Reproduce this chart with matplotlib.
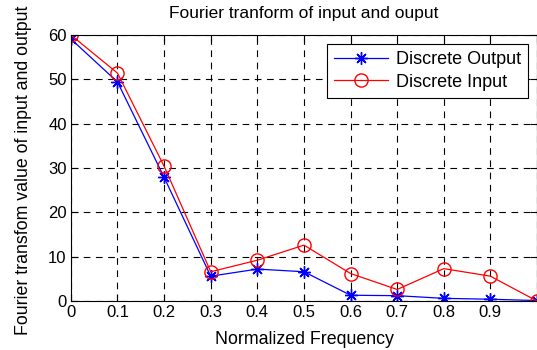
import numpy as np
import matplotlib
matplotlib.use("Agg")
import matplotlib.pyplot as plt

plt.rcParams['font.family'] = ['Liberation Sans', 'DejaVu Sans']

# normalized frequency and FFT magnitudes
freq = [0, 0.1, 0.2, 0.3, 0.4, 0.5, 0.6, 0.7, 0.8, 0.9, 1.0]
output_mag = [59.1, 49.4, 27.9, 5.6, 7.2, 6.6, 1.3, 1.2, 0.6, 0.4, 0.1]
input_mag = [60.0, 51.4, 30.4, 6.6, 9.2, 12.6, 6.2, 2.6, 7.3, 5.6, 0.0]

x_ticks = [0, 0.1, 0.2, 0.3, 0.4, 0.5, 0.6, 0.7, 0.8, 0.9, 1.0]
x_tick_labels = ['0', '0.1', '0.2', '0.3', '0.4', '0.5', '0.6', '0.7', '0.8', '0.9', '']
y_ticks = [0, 10, 20, 30, 40, 50, 60]

fig = plt.figure(figsize=(5.37, 3.5), dpi=100)
ax = fig.add_axes([0.132, 0.14, 0.868, 0.76])

# asterisk marker like matlab's '*'
ax.plot(freq, output_mag, color='blue', marker=(8, 2, 0), markersize=9,
        markeredgewidth=1.0, linewidth=0.9, label='Discrete Output')
ax.plot(freq, input_mag, color='red', marker='o', markersize=9.5,
        markerfacecolor='none', markeredgewidth=1.0, linewidth=0.9,
        label='Discrete Input')

ax.set_xlim(0, 1)
ax.set_ylim(0, 60)
ax.set_xticks(x_ticks)
ax.set_xticklabels(x_tick_labels)
ax.set_yticks(y_ticks)
ax.tick_params(direction='in', top=True, right=True, labelsize=12, length=5, pad=3)
ax.grid(True, color='black', linestyle=(0, (6, 5)), linewidth=0.8)

ax.set_title('Fourier tranform of input and ouput', fontsize=12.5, pad=12)
ax.set_xlabel('Normalized Frequency', fontsize=12.8)
ax.set_ylabel('Fourier transfom value of input and output', fontsize=12.8)
ax.xaxis.set_label_coords(0.5, -0.112)
ax.yaxis.set_label_coords(-0.083, 0.49)

leg = ax.legend(loc='upper right', fontsize=13, fancybox=False, framealpha=1,
                edgecolor='black', handlelength=3.0, handletextpad=0.4,
                borderaxespad=0.5, labelspacing=0.3)
leg.get_frame().set_linewidth(0.8)

fig.savefig('out.png', dpi=100)
